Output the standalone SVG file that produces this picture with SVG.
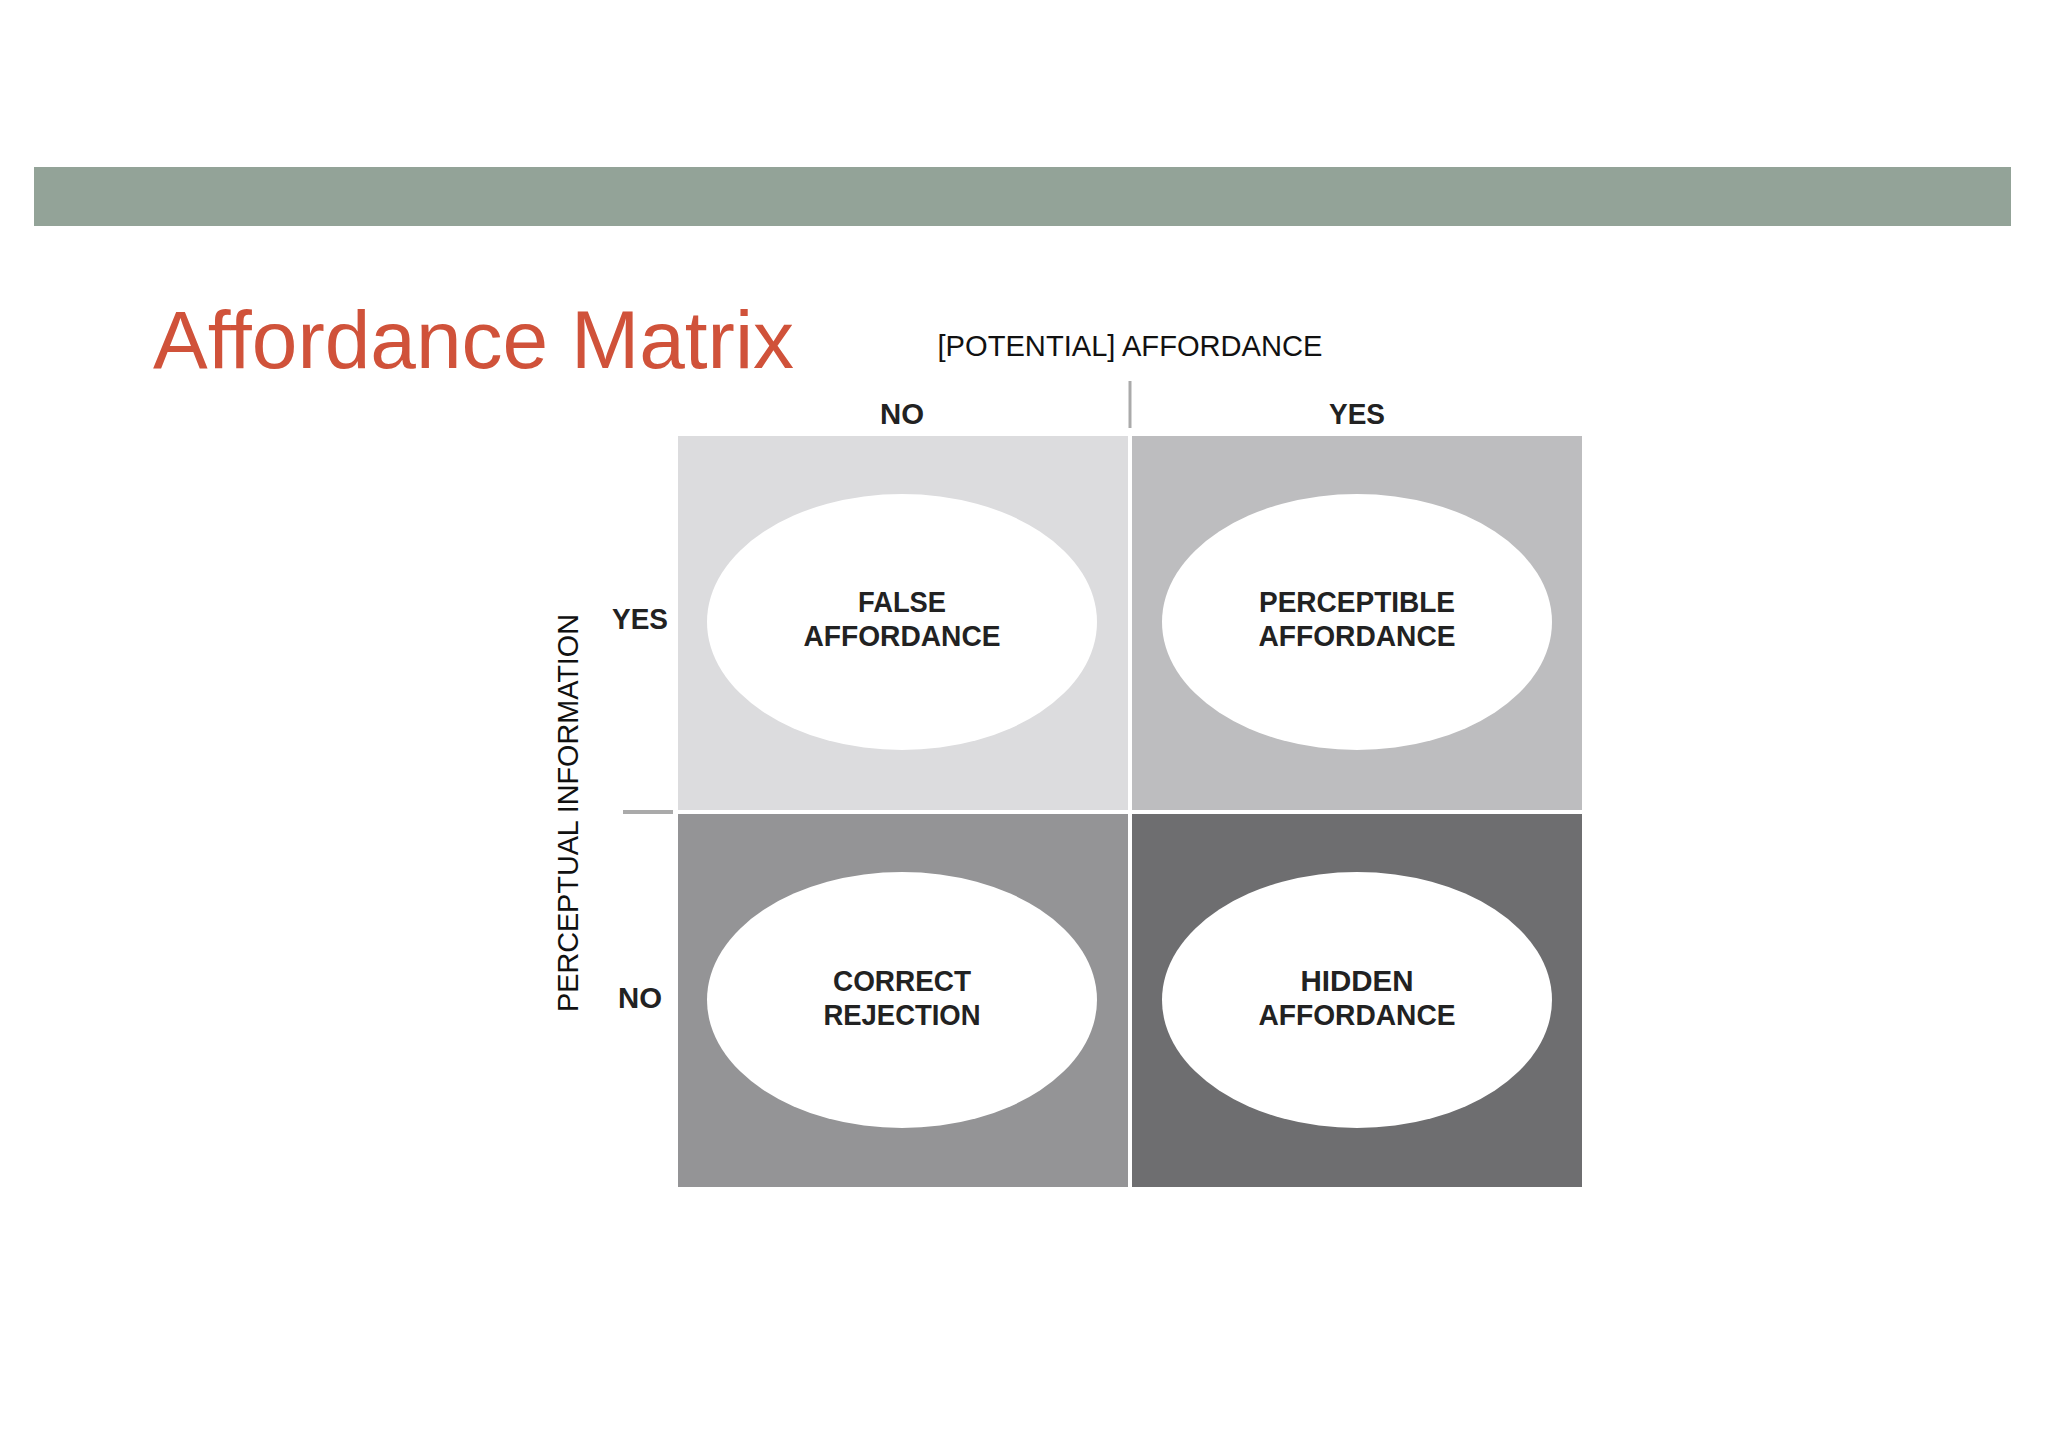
<svg xmlns="http://www.w3.org/2000/svg" width="2048" height="1448" viewBox="0 0 2048 1448">
<style>
.t{font-family:"Liberation Sans",Arial,sans-serif;font-weight:bold;font-size:29px;fill:#222;text-anchor:middle}
.e{fill:#fff}
</style>
<rect width="2048" height="1448" fill="#fff"/>
<rect x="34" y="167" width="1977" height="59" fill="#93A398"/>
<text x="153" y="368" font-family="Liberation Sans,Arial,sans-serif" font-size="82" fill="#D0523A">Affordance Matrix</text>
<text class="t" x="1130" y="356" textLength="385" lengthAdjust="spacingAndGlyphs" style="font-weight:normal;fill:#111">[POTENTIAL] AFFORDANCE</text>
<g id="axes">
<line x1="1130" y1="381" x2="1130" y2="428" stroke="#aaa" stroke-width="3"/>
<line x1="623" y1="812" x2="673" y2="812" stroke="#aaa" stroke-width="4"/>
<text class="t" x="902" y="424" textLength="44" lengthAdjust="spacingAndGlyphs">NO</text>
<text class="t" x="1357" y="424" textLength="56" lengthAdjust="spacingAndGlyphs">YES</text>
<text class="t" x="640" y="629" textLength="56" lengthAdjust="spacingAndGlyphs">YES</text>
<text class="t" x="640" y="1008" textLength="44" lengthAdjust="spacingAndGlyphs">NO</text>
<text class="t" transform="translate(578,813) rotate(-90)" textLength="398" lengthAdjust="spacingAndGlyphs" style="font-weight:normal;fill:#111">PERCEPTUAL INFORMATION</text>
</g>
<g id="false-affordance">
<rect x="678" y="436" width="450" height="374" fill="#DCDCDE"/>
<ellipse class="e" cx="902" cy="622" rx="195" ry="128"/>
<text class="t" x="902" y="612" textLength="88" lengthAdjust="spacingAndGlyphs">FALSE</text>
<text class="t" x="902" y="646" textLength="197" lengthAdjust="spacingAndGlyphs">AFFORDANCE</text>
</g>
<g id="perceptible-affordance">
<rect x="1132" y="436" width="450" height="374" fill="#BDBDBF"/>
<ellipse class="e" cx="1357" cy="622" rx="195" ry="128"/>
<text class="t" x="1357" y="612" textLength="196" lengthAdjust="spacingAndGlyphs">PERCEPTIBLE</text>
<text class="t" x="1357" y="646" textLength="197" lengthAdjust="spacingAndGlyphs">AFFORDANCE</text>
</g>
<g id="correct-rejection">
<rect x="678" y="814" width="450" height="373" fill="#949496"/>
<ellipse class="e" cx="902" cy="1000" rx="195" ry="128"/>
<text class="t" x="902" y="991" textLength="138" lengthAdjust="spacingAndGlyphs">CORRECT</text>
<text class="t" x="902" y="1025" textLength="157" lengthAdjust="spacingAndGlyphs">REJECTION</text>
</g>
<g id="hidden-affordance">
<rect x="1132" y="814" width="450" height="373" fill="#6E6E70"/>
<ellipse class="e" cx="1357" cy="1000" rx="195" ry="128"/>
<text class="t" x="1357" y="991" textLength="113" lengthAdjust="spacingAndGlyphs">HIDDEN</text>
<text class="t" x="1357" y="1025" textLength="197" lengthAdjust="spacingAndGlyphs">AFFORDANCE</text>
</g>
<g id="connectors"/>
</svg>
